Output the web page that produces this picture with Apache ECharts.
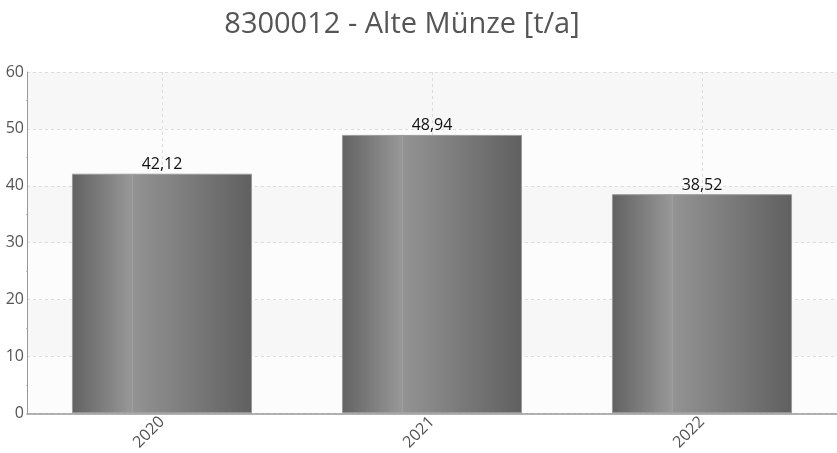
<!DOCTYPE html>
<html>
<head>
<meta charset="utf-8">
<script src="https://cdn.jsdelivr.net/npm/echarts@6/dist/echarts.min.js"></script>
<style>
  html, body { margin: 0; padding: 0; background: #fff; }
  #chart { width: 837px; height: 453px; }
</style>
</head>
<body>
<div id="chart"></div>
<script>
var years = ["2020", "2021", "2022"];
var values = [42.12, 48.94, 38.52];
var yTicks = { min: 0, max: 60, interval: 10 };

var chart = echarts.init(document.getElementById("chart"));

// Balken: horizontaler Grauverlauf mit heller Kante bei 1/3
var barColor = new echarts.graphic.LinearGradient(0, 0, 1, 0, [
  { offset: 0, color: "#626262" },
  { offset: 0.33, color: "#979797" },
  { offset: 0.335, color: "#a2a2a2" },
  { offset: 0.34, color: "#939393" },
  { offset: 1, color: "#606060" }
]);

var option = {
  animation: false,
  title: {
    text: "8300012 - Alte Münze [t/a]",
    left: 397,
    top: 5,
    textAlign: "center",
    textStyle: {
      fontFamily: "Open Sans",
      fontSize: 29,
      fontWeight: "normal",
      color: "#555555"
    }
  },
  grid: { left: 27, right: 0, top: 72, bottom: 37 },
  xAxis: {
    type: "category",
    data: years,
    axisLine: { lineStyle: { color: "#999999", width: 1.5 } },
    axisTick: { show: false, alignWithLabel: true },
    axisLabel: {
      rotate: 45,
      fontFamily: "Open Sans",
      fontSize: 16,
      color: "#555555",
      margin: 6
    },
    splitLine: {
      show: true,
      alignWithLabel: true,
      interval: 0,
      lineStyle: { color: "#dddddd", type: [3, 3] }
    }
  },
  yAxis: {
    type: "value",
    min: yTicks.min,
    max: yTicks.max,
    interval: yTicks.interval,
    axisLine: { show: true, lineStyle: { color: "#999999" } },
    axisTick: { show: false },
    minorTick: { show: true, splitNumber: 2, length: 1, lineStyle: { color: "#f0b0b0" } },
    axisLabel: {
      fontFamily: "Open Sans",
      fontSize: 16,
      color: "#555555",
      margin: 3
    },
    splitLine: { lineStyle: { color: "#dddddd", type: [3, 3] } },
    splitArea: { show: true, areaStyle: { color: ["#fcfcfc", "#f7f7f7"] } }
  },
  series: [
    {
      type: "bar",
      data: values,
      barWidth: "66.7%",
      itemStyle: { color: barColor, borderColor: "#9a9a9a", borderWidth: 1 },
      label: {
        show: true,
        position: "top",
        distance: 1,
        fontFamily: "Open Sans",
        fontSize: 16,
        color: "#111111",
        formatter: function (p) {
          return p.value.toFixed(2).replace(".", ",");
        }
      }
    }
  ]
};

chart.setOption(option);
</script>
</body>
</html>
